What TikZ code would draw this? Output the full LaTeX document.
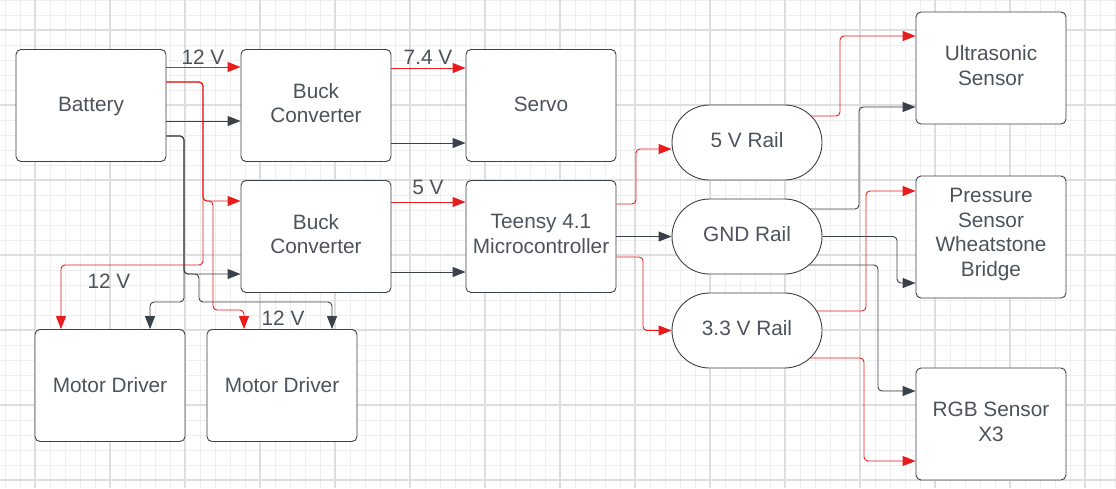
\documentclass[tikz,border=0pt]{standalone}
\usepackage{fontspec}
\setmainfont{Liberation Sans}
\usetikzlibrary{arrows.meta,calc}
\definecolor{edgeg}{HTML}{3B414A}
\definecolor{txtg}{HTML}{4D535B}
\definecolor{pwr}{HTML}{E81C1C}
\definecolor{gmaj}{HTML}{DEDEDE}
\definecolor{gmin}{HTML}{EEEEEE}
\tikzset{
  box/.style={draw=edgeg, fill=white, line width=0.9pt, rounded corners=5pt,
    minimum width=150pt, minimum height=112pt, inner sep=0pt},
  rail/.style={box, minimum height=75pt, rounded corners=37.5pt},
  boxtxt/.style={align=center, text=txtg, font=\fontsize{20.8}{24.8}\selectfont,
    inner sep=0pt, yshift=2.5pt},
  lab/.style={text=txtg, font=\fontsize{20.8}{24}\selectfont, inner sep=0pt},
  conn/.style={line width=0.9pt, rounded corners=4pt, -{Triangle[length=13pt,width=10pt]}},
  pw/.style={conn, draw=pwr, color=pwr},
  gd/.style={conn, draw=edgeg, color=edgeg},
}
\begin{document}
\begin{tikzpicture}[x=1pt,y=-1pt]
\useasboundingbox (0,0) rectangle (1116,488);
\fill[white] (0,0) rectangle (1116,488);
% grid
\foreach \x in {5,20,...,1115} \draw[gmin, line width=1pt] (\x,0) -- (\x,488);
\foreach \y in {0,15,...,487} \draw[gmin, line width=1pt] (0,\y) -- (1116,\y);
\foreach \x in {35,110,...,1115} \draw[gmaj, line width=2pt] (\x,0) -- (\x,488);
\foreach \y in {30,105,...,487} \draw[gmaj, line width=2pt] (0,\y) -- (1116,\y);

% nodes
\node[box, label={[boxtxt, yshift=-3pt]center:Battery}] (bat) at (91,105.5) {};
\node[box, label={[boxtxt]center:Buck\\Converter}] (b1) at (316,105.5) {};
\node[box, label={[boxtxt, yshift=-1pt]center:Servo}] (servo) at (541,105.5) {};
\node[box, label={[boxtxt]center:Buck\\Converter}] (b2) at (316,236.5) {};
\node[box, label={[boxtxt]center:Teensy 4.1\\Microcontroller}] (teensy) at (541,236.5) {};
\node[box, label={[boxtxt, yshift=-2pt]center:Motor Driver}] (md1) at (110,385.5) {};
\node[box, label={[boxtxt, yshift=-2pt]center:Motor Driver}] (md2) at (282,385.5) {};
\node[rail, label={[boxtxt]center:5 V Rail}] (r5) at (747,142.5) {};
\node[rail, label={[boxtxt]center:GND Rail}] (gnd) at (747,236.5) {};
\node[rail, label={[boxtxt]center:3.3 V Rail}] (r33) at (747,330.5) {};
\node[box, label={[boxtxt]center:Ultrasonic\\Sensor}] (ultra) at (991,68) {};
\node[box, minimum height=122pt, label={[boxtxt]center:Pressure\\Sensor\\Wheatstone\\Bridge}] (press) at (991,237) {};
\node[box, label={[boxtxt]center:RGB Sensor\\X3}] (rgb) at (991,424) {};

% battery to bucks and drivers
\draw[pw] (bat.east |- 0,67) -- (b1.west |- 0,67);
\draw[pw] (bat.east |- 0,82) -| (203,201) -- (b2.west |- 0,201);
\draw[pw] (bat.east |- 0,82) -| (203,265) -| (md1.north -| 61,0);
\draw[pw] (bat.east |- 0,82) -| (203,201) -| (213,310) -| (md2.north -| 244,0);
\draw[gd] (bat.east |- 0,121) -- (b1.west |- 0,121);
\draw[gd] (bat.east |- 0,136) -| (184,274) -- (b2.west |- 0,274);
\draw[gd] (bat.east |- 0,136) -| (184,302) -| (md1.north -| 150,0);
\draw[gd] (bat.east |- 0,136) -| (184,274) -| (199,302) -| (md2.north -| 332,0);

% bucks to servo / teensy
\draw[pw] (b1.east |- 0,68) -- (servo.west |- 0,68);
\draw[gd] (b1.east |- 0,143) -- (servo.west |- 0,143);
\draw[pw] (b2.east |- 0,202) -- (teensy.west |- 0,202);
\draw[gd] (b2.east |- 0,272) -- (teensy.west |- 0,272);

% teensy to rails
\draw[pw] (teensy.east |- 0,204) -| (636,149) -- (r5.west |- 0,149);
\draw[gd] (teensy.east |- 0,236.5) -- (gnd.west);
\draw[pw] (teensy.east |- 0,257) -| (643,330.5) -- (r33.west);

% rails to sensors
\draw[pw] ($(r5.east)+(-11,-26.5)$) -| (840,36) -- (ultra.west |- 0,36);
\draw[gd] ($(gnd.east)+(-12,-27.5)$) -| (859,107) -- (ultra.west |- 0,107);
\draw[gd] (gnd.east) -| (897,283) -- (press.west |- 0,283);
\draw[gd] ($(gnd.east)+(-13,28.5)$) -| (878,391) -- (rgb.west |- 0,391);
\draw[pw] ($(r33.east)+(-5.5,-19.5)$) -| (866,191) -- (press.west |- 0,191);
\draw[pw] ($(r33.east)+(-12,27.5)$) -| (864,461) -- (rgb.west |- 0,461);

% labels
\node[lab] (l1) at (203,57) {12 V};
\node[lab] (l2) at (428,57) {7.4 V};
\node[lab] (l3) at (428,187) {5 V};
\node[lab] (l4) at (109,281) {12 V};
\node[lab] (l5) at (283,318) {12 V};
\end{tikzpicture}
\end{document}
